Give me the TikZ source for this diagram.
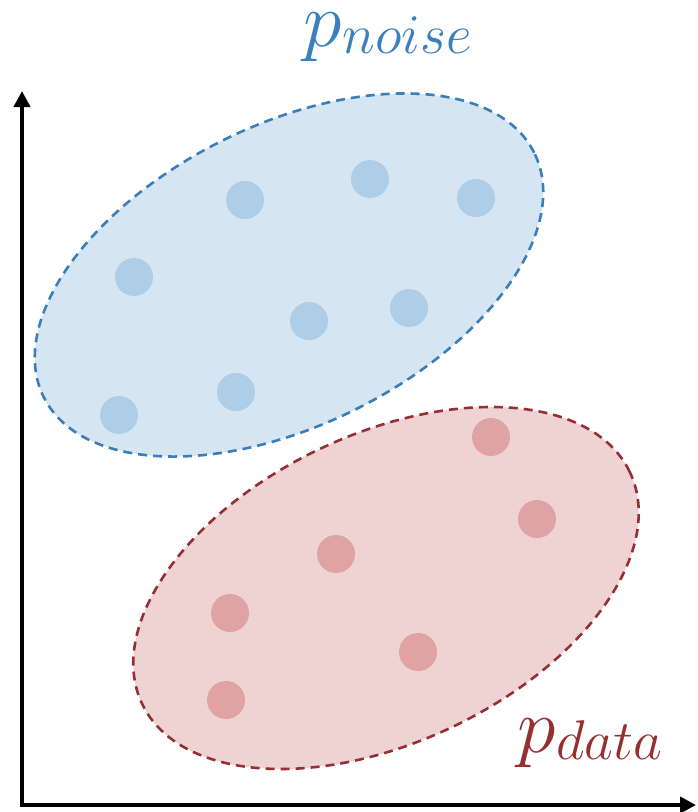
\documentclass[tikz,border=0pt]{standalone}
\usepackage{fix-cm}
\usetikzlibrary{arrows.meta}
\definecolor{bstroke}{HTML}{3A7EBA}
\definecolor{bfill}{HTML}{D6E5F2}
\definecolor{bdot}{HTML}{AECDE6}
\definecolor{rstroke}{HTML}{943034}
\definecolor{rfill}{HTML}{EFD2D2}
\definecolor{rdot}{HTML}{E0A3A3}
\definecolor{btext}{HTML}{3B80BD}
\definecolor{rtext}{HTML}{95302F}
\tikzset{
  axis/.style={line width=4pt, -{Triangle[length=16pt,width=16pt]}},
  blob/.style={line width=2.6pt, dash pattern=on 9pt off 6pt},
  bdotsty/.style={circle, fill=bdot, minimum size=38pt, inner sep=0pt},
  rdotsty/.style={circle, fill=rdot, minimum size=38pt, inner sep=0pt},
  lab/.style={inner sep=0pt, anchor=base west}
}
\newcommand{\plab}[1]{{\fontsize{78}{78}\selectfont$p$}\kern1pt\raisebox{-7pt}{\fontsize{56}{56}\selectfont$#1$}}
\begin{document}
\begin{tikzpicture}[x=1pt,y=-1pt]
\useasboundingbox (0,0) rectangle (697,812);
% blue blob
\draw[blob, draw=bstroke, fill=bfill, rotate around={26.5:(289,275)}]
  (289,275) ellipse [x radius=274pt, y radius=150pt];
% red blob
\draw[blob, draw=rstroke, fill=rfill, rotate around={25.4:(386,588)}]
  (386,588) ellipse [x radius=270pt, y radius=154pt];
% blue dots
\node[bdotsty] (b1) at (245,200) {};
\node[bdotsty] (b2) at (370,179) {};
\node[bdotsty] (b3) at (476,198) {};
\node[bdotsty] (b4) at (134,277) {};
\node[bdotsty] (b5) at (309,321) {};
\node[bdotsty] (b6) at (409,308) {};
\node[bdotsty] (b7) at (236,392) {};
\node[bdotsty] (b8) at (119,415) {};
% red dots
\node[rdotsty] (r1) at (491,437) {};
\node[rdotsty] (r2) at (537,519) {};
\node[rdotsty] (r3) at (336,554) {};
\node[rdotsty] (r4) at (230,613) {};
\node[rdotsty] (r5) at (418,652) {};
\node[rdotsty] (r6) at (226,700) {};
% axes
\coordinate (origin) at (22,805);
\coordinate (ytip) at (22,91);
\coordinate (xtip) at (696,805);
\draw[axis] ([yshift=2pt]origin) -- (ytip);
\draw[axis] ([xshift=-2pt]origin) -- (xtip);
% labels
\node[lab, text=btext] (pn) at (303,46) {\plab{noise}};
\node[lab, text=rtext] (pd) at (517,752) {\plab{data}};
\end{tikzpicture}
\end{document}
